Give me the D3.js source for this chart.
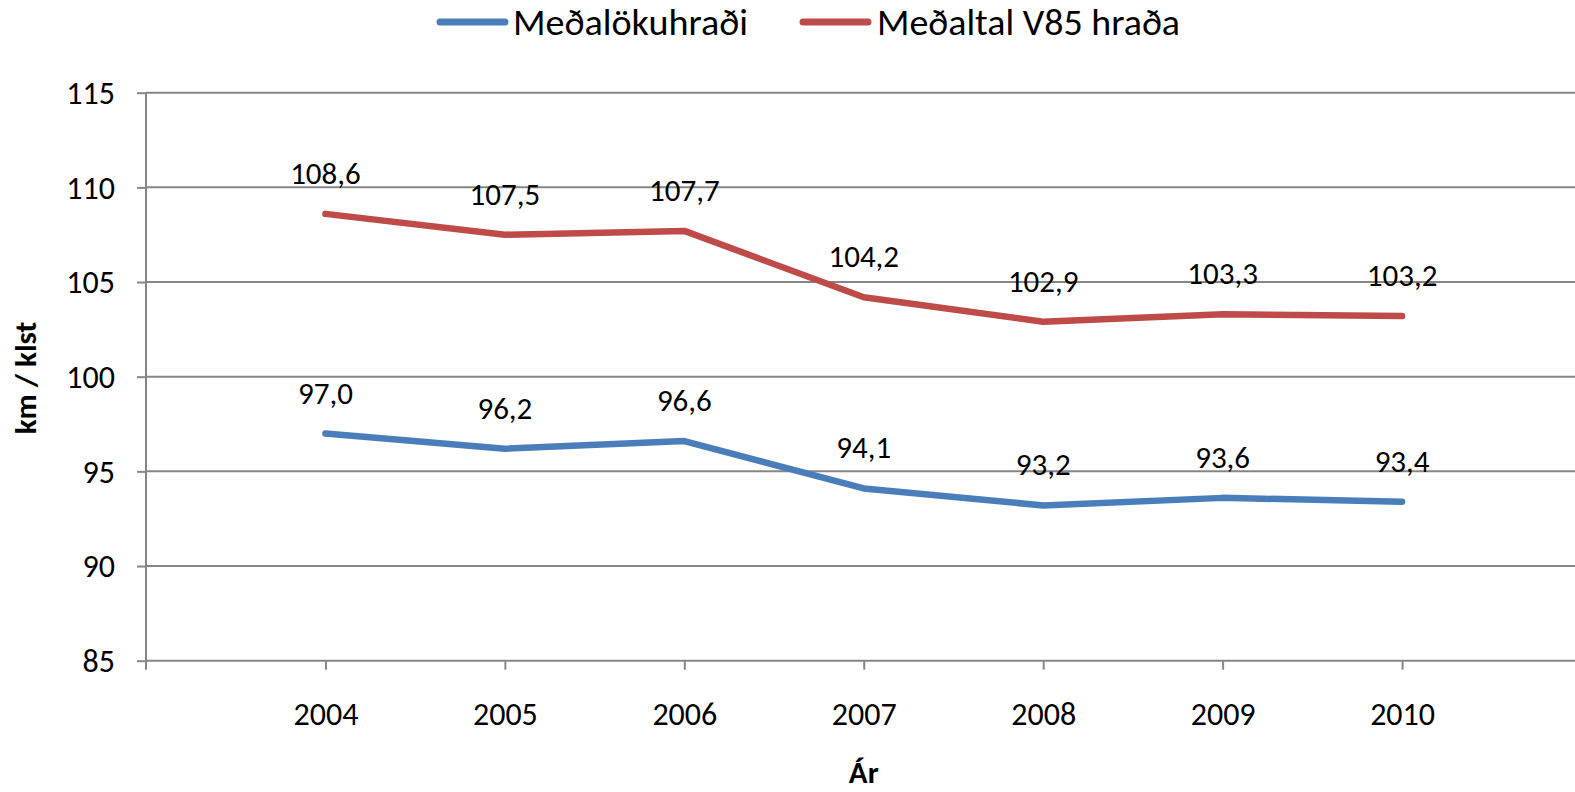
<!DOCTYPE html>
<html>
<head>
<meta charset="utf-8">
<script src="https://cdn.jsdelivr.net/npm/d3@7"></script>
<style>
  body { margin: 0; background: #fff; }
  text { font-family: Carlito, "Liberation Sans", Arial, sans-serif; fill: #000; }
</style>
</head>
<body>
<div id="chart"></div>
<script>
const years = ["2004", "2005", "2006", "2007", "2008", "2009", "2010"];
const medal = [97.0, 96.2, 96.6, 94.1, 93.2, 93.6, 93.4];
const v85 = [108.6, 107.5, 107.7, 104.2, 102.9, 103.3, 103.2];
const yTicks = [85, 90, 95, 100, 105, 110, 115];
const seriesNames = ["Meðalökuhraði", "Meðaltal V85 hraða"];
const seriesColors = ["#4A7EBB", "#BE4B48"];

const width = 1575;
const height = 792;
const margin = { top: 92.7, left: 146, bottom: 660.7 };
const axisRight = 1581.5;

const svg = d3.select("#chart")
  .append("svg")
  .attr("width", width)
  .attr("height", height);

const x = d3.scalePoint()
  .domain(years)
  .range([margin.left, axisRight])
  .padding(1);

const y = d3.scaleLinear()
  .domain([85, 115])
  .range([margin.bottom, margin.top]);

const grey = "#868686";
const fmt = v => v.toFixed(1).replace(".", ",");

// gridlines + y axis
const yAxis = d3.axisLeft(y)
  .tickValues(yTicks)
  .tickSize(9)
  .tickFormat(d => d);

const gy = svg.append("g")
  .attr("transform", `translate(${margin.left},0)`)
  .call(yAxis);
gy.select(".domain").remove();
gy.selectAll(".tick line").attr("stroke", grey).attr("stroke-width", 2);
gy.selectAll(".tick text").attr("font-size", 32).attr("x", -31).attr("dy", "0.34em");

svg.append("g")
  .selectAll("line")
  .data(yTicks)
  .join("line")
  .attr("x1", margin.left)
  .attr("x2", width)
  .attr("y1", d => y(d))
  .attr("y2", d => y(d))
  .attr("stroke", grey)
  .attr("stroke-width", 2);

// y axis line (extends down as the first x tick)
svg.append("line")
  .attr("x1", margin.left).attr("x2", margin.left)
  .attr("y1", margin.top).attr("y2", margin.bottom + 9)
  .attr("stroke", grey)
  .attr("stroke-width", 2);

// x axis
const xAxis = d3.axisBottom(x)
  .tickSize(9);
const gx = svg.append("g")
  .attr("transform", `translate(0,${margin.bottom})`)
  .call(xAxis);
gx.select(".domain").remove();
gx.selectAll(".tick line").attr("stroke", grey).attr("stroke-width", 2);
gx.selectAll(".tick text").attr("font-size", 32).attr("y", 64).attr("dy", 0);

// axis titles
svg.append("text")
  .attr("transform", `translate(36,378) rotate(-90)`)
  .attr("text-anchor", "middle")
  .attr("font-size", 31)
  .attr("font-weight", "bold")
  .text("km / klst");

svg.append("text")
  .attr("x", (margin.left + axisRight) / 2)
  .attr("y", 783)
  .attr("text-anchor", "middle")
  .attr("font-size", 31)
  .attr("font-weight", "bold")
  .text("Ár");

// lines
const line = d3.line()
  .x((d, i) => x(years[i]))
  .y(d => y(d));

[medal, v85].forEach((vals, k) => {
  svg.append("path")
    .datum(vals)
    .attr("fill", "none")
    .attr("stroke", seriesColors[k])
    .attr("stroke-width", 6.5)
    .attr("stroke-linecap", "round")
    .attr("stroke-linejoin", "round")
    .attr("d", line);

  svg.append("g")
    .selectAll("text")
    .data(vals)
    .join("text")
    .attr("x", (d, i) => x(years[i]))
    .attr("y", d => y(d) - 30)
    .attr("text-anchor", "middle")
    .attr("font-size", 31)
    .text(d => fmt(d));
});

// legend
const legendItems = [
  { x1: 440, x2: 505, tx: 513, tw: 235 },
  { x1: 803, x2: 868, tx: 877, tw: 303 }
];
legendItems.forEach((l, k) => {
  svg.append("line")
    .attr("x1", l.x1).attr("x2", l.x2)
    .attr("y1", 22).attr("y2", 22)
    .attr("stroke", seriesColors[k])
    .attr("stroke-width", 7)
    .attr("stroke-linecap", "round");
  svg.append("text")
    .attr("x", l.tx)
    .attr("y", 35)
    .attr("font-size", 36)
    .attr("textLength", l.tw)
    .attr("lengthAdjust", "spacingAndGlyphs")
    .text(seriesNames[k]);
});
</script>
</body>
</html>
